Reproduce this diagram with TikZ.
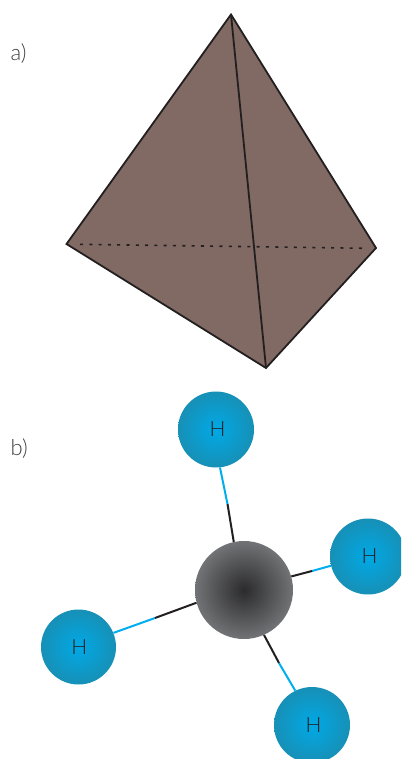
\documentclass[tikz,border=0pt]{standalone}
\usepackage{fontspec}
\setmainfont{Lato}[UprightFont={* Light}]
\definecolor{edgeink}{HTML}{231F20}
\definecolor{tetra}{HTML}{806A63}
\definecolor{bondblue}{HTML}{00AEEF}
\definecolor{hin}{HTML}{00A9E6}
\definecolor{hout}{HTML}{1790B6}
\definecolor{cin}{HTML}{2B2B2C}
\definecolor{cout}{HTML}{727376}
\definecolor{labelink}{HTML}{3F3F3F}
\tikzset{
  hatom/.style={circle,inner sep=0pt,minimum size=76pt,inner color=hin,outer color=hout,text=edgeink,font=\fontsize{21}{21}\selectfont},
  catom/.style={circle,inner sep=0pt,minimum size=98pt,inner color=cin,outer color=cout},
  panel/.style={inner sep=0pt,text=labelink,font=\fontsize{22}{22}\selectfont},
  tetline/.style={draw=edgeink,line width=1.8pt,line join=miter},
  hbond/.style={draw=bondblue,line width=2pt},
  cbond/.style={draw=edgeink,line width=2pt}
}
\begin{document}
\begin{tikzpicture}[x=1pt,y=-1pt]
\useasboundingbox (0,0) rectangle (401,759);
\coordinate (top) at (231,14.5);
\coordinate (left) at (66.5,244);
\coordinate (right) at (376,248);
\coordinate (bot) at (266,368);
\coordinate (d1) at (80,244.3);
\coordinate (d2) at (367,248.3);
\fill[tetra] (top) -- (right) -- (bot) -- (left) -- cycle;
\draw[edgeink,line width=1.6pt,dash pattern=on 3pt off 6.3pt] (d1) -- (d2);
\draw[tetline] (top) -- (right) -- (bot) -- (left) -- cycle;
\draw[tetline] (top) -- (bot);
\node[panel,anchor=base west] (la) at (10.5,60.5) {a)};
\node[panel,anchor=base west] (lb) at (10.5,455.5) {b)};
\begin{scope}
\clip (0,0) rectangle (401,759);
\node[catom] (c) at (244,590) {};
\node[hatom] (h1) at (216,429.5) {\hspace{3pt}H};
\node[hatom] (h2) at (368,556.5) {\hspace{3pt}H};
\node[hatom,minimum size=75pt] (h3) at (78.5,647) {\hspace{1.5pt}H};
\node[hatom] (h4) at (312,725) {\hspace{3pt}H};
\end{scope}
\coordinate (m1) at (227.5,504);
\coordinate (m2) at (312,571);
\coordinate (m3) at (155,618);
\coordinate (m4) at (279,663);
\draw[hbond] (h1.-84) -- (m1);
\draw[cbond] (m1) -- (c.102);
\draw[hbond] (h2.194) -- (m2);
\draw[cbond] (m2) -- (c.16);
\draw[hbond] (h3.22) -- (m3);
\draw[cbond] (m3) -- (c.195.5);
\draw[hbond] (h4.116) -- (m4);
\draw[cbond] (m4) -- (c.-66);
\end{tikzpicture}
\end{document}
